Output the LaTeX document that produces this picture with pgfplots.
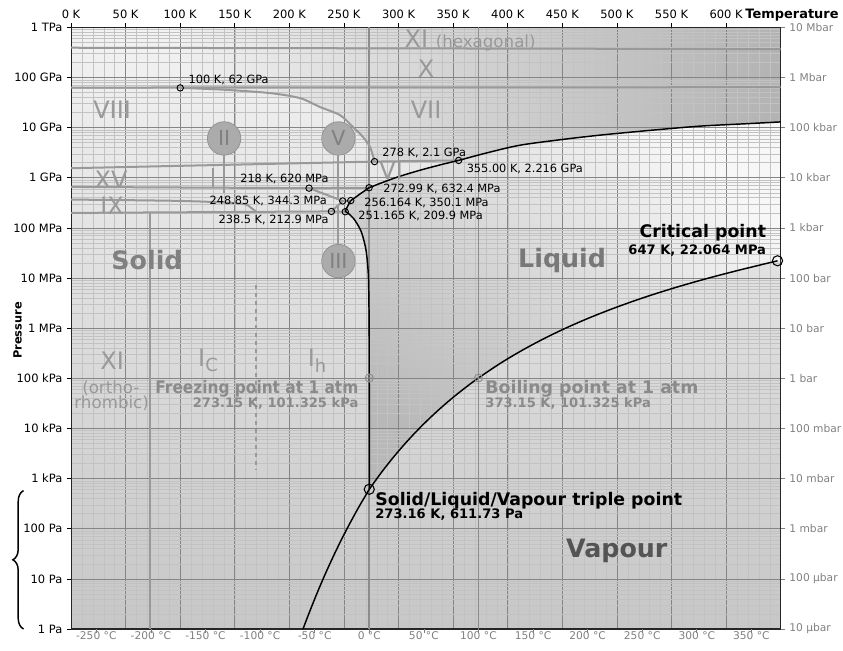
\documentclass[border=0pt]{standalone}
\usepackage{pgfplots}
\pgfplotsset{compat=1.18}
\usepackage{fontspec}
\setmainfont{DejaVu Sans}
\usetikzlibrary{decorations.pathreplacing}
\tikzset{
  lbl/.style={font=\fontsize{8.5}{9}\selectfont, inner sep=1pt, text=black},
  rom/.style={font=\fontsize{18}{18}\selectfont, text=black!40, inner sep=0pt},
  big/.style={font=\bfseries\fontsize{19}{19}\selectfont, inner sep=0pt},
  phase/.style={black!40, line width=1.5pt},
  melt/.style={black, line width=1.1pt},
  circ/.style={circle, fill=black!33, draw=black!42, line width=0.6pt, minimum size=25pt, inner sep=0pt, text=black!50, font=\fontsize{15.5}{15.5}\selectfont},
  ttl/.style={inner sep=0pt, font=\bfseries\fontsize{13}{14}\selectfont},
  sub/.style={inner sep=0pt, font=\bfseries\fontsize{9.8}{11}\selectfont},
}
\begin{document}
\begin{tikzpicture}
\begin{axis}[
  set layers, clip=false,
  scale only axis, width=532pt, height=451pt,
  xmin=0, xmax=650, ymode=log, ymin=1, ymax=1e12,
  xtick={0,50,100,150,200,250,300,350,400,450,500,550,600},
  xticklabels={0 K,50 K,100 K,150 K,200 K,250 K,300 K,350 K,400 K,450 K,500 K,550 K,600 K},
  xtick pos=right, xticklabel pos=right, ytick pos=left,
  ytick={1,10,100,1e3,1e4,1e5,1e6,1e7,1e8,1e9,1e10,1e11,1e12},
  yticklabels={1 Pa,10 Pa,100 Pa,1 kPa,10 kPa,100 kPa,1 MPa,10 MPa,100 MPa,1 GPa,10 GPa,100 GPa,1 TPa},
  minor xtick={10,20,...,650},
  minor ytick={2e0,3e0,4e0,5e0,6e0,7e0,8e0,9e0,2e1,3e1,4e1,5e1,6e1,7e1,8e1,9e1,2e2,3e2,4e2,5e2,6e2,7e2,8e2,9e2,2e3,3e3,4e3,5e3,6e3,7e3,8e3,9e3,2e4,3e4,4e4,5e4,6e4,7e4,8e4,9e4,2e5,3e5,4e5,5e5,6e5,7e5,8e5,9e5,2e6,3e6,4e6,5e6,6e6,7e6,8e6,9e6,2e7,3e7,4e7,5e7,6e7,7e7,8e7,9e7,2e8,3e8,4e8,5e8,6e8,7e8,8e8,9e8,2e9,3e9,4e9,5e9,6e9,7e9,8e9,9e9,2e10,3e10,4e10,5e10,6e10,7e10,8e10,9e10,2e11,3e11,4e11,5e11,6e11,7e11,8e11,9e11},
  grid=both,
  major grid style={black!48, line width=0.5pt},
  minor grid style={black!24, line width=0.35pt},
  minor tick length=0pt, major tick length=3pt, tick align=outside,
  tick style={black, line width=0.5pt},
  axis line style={black!85, line width=0.8pt},
  ticklabel style={font=\fontsize{8.6}{9}\selectfont},
]
\coordinate (ll) at (rel axis cs:0,0);
\coordinate (ur) at (rel axis cs:1,1);
% backgrounds
\addplot[on layer=axis background, draw=none, top color=black!5, bottom color=black!22]
  coordinates {(0,1)(650,1)(650,1e12)(0,1e12)};
\addplot[on layer=axis background, draw=none, left color=black!6, right color=black!30]
  coordinates {(278,2.1e9)(355,2.216e9)(380,3.1e9)(411,4.45e9)(450,5.8e9)(485,7.1e9)(530,8.8e9)(576,10.7e9)(620,12e9)(650,13e9)(650,1e12)(100,1e12)(100,6.2e10)(140,5.7e10)(182.3,4.88e10)(209.8,3.87e10)(228.1,2.57e10)(246.4,1.77e10)(258.4,1.02e10)(267.5,6.46e9)(273.9,4.07e9)};
\addplot[on layer=axis background, draw=none, top color=black!3, bottom color=black!28, shading angle=-40]
  coordinates {(273.16,611.73)(273.15,1e5)(273.08,1e6)(272.42,1e7)(270.7,3e7)(268.8,5e7)(266.6,7.5e7)(264.2,1e8)(259.2,1.5e8)(253.3,2e8)(251.165,2.099e8)(252.5,2.5e8)(254.5,3e8)(256.164,3.501e8)(260,4e8)(265,4.8e8)(270,5.7e8)(272.99,6.324e8)(285,8e8)(300,1.05e9)(320,1.42e9)(340,1.85e9)(355,2.216e9)(380,3.1e9)(411,4.45e9)(450,5.8e9)(485,7.1e9)(530,8.8e9)(576,10.7e9)(620,12e9)(650,13e9)(650,2.2064e7)(647.096,2.2064e7)(633.15,1.865e7)(613.15,1.459e7)(593.15,1.1284e7)(573.15,8.588e6)(553.15,6.417e6)(533.15,4.694e6)(513.15,3.347e6)(493.15,2.318e6)(473.15,1.555e6)(453.15,1.0028e6)(433.15,6.182e5)(413.15,3.615e5)(393.15,1.987e5)(373.15,101325)(363.15,70182)(353.15,47414)(343.15,31201)(333.15,19946)(323.15,12352)(313.15,7385)(303.15,4247)(293.15,2339)(283.15,1228)};
% extra grid lines at 0 C and 100 C
\addplot[black!45, line width=1.5pt] coordinates {(273.15,1)(273.15,1e12)};
\addplot[black!45, line width=0.6pt] coordinates {(373.15,1)(373.15,1e12)};
% grey phase boundaries
\addplot[phase] coordinates {(0,3.92e11)(650,3.68e11)};
\addplot[phase] coordinates {(0,6.3e10)(650,6.4e10)};
\addplot[phase, smooth] coordinates {(100,6.2e10)(140,5.7e10)(182.3,4.88e10)(209.8,3.87e10)(228.1,2.57e10)(246.4,1.77e10)(258.4,1.02e10)(267.5,6.46e9)(273.9,4.07e9)(278,2.1e9)};
\addplot[phase] coordinates {(0,1.55e9)(278,2.1e9)(355,2.216e9)};
\addplot[phase] coordinates {(0,6.56e8)(218,6.2e8)(272.99,6.324e8)};
\addplot[phase] coordinates {(218,6.2e8)(248.85,3.443e8)(256.164,3.501e8)};
\addplot[phase] coordinates {(238.5,2.129e8)(248.85,3.443e8)};
\addplot[phase] coordinates {(0,1.99e8)(238.5,2.129e8)(251.165,2.099e8)};
\addplot[phase, smooth] coordinates {(0,3.67e8)(100,3.45e8)(154.8,3.06e8)(165,2.5e8)(170,2.05e8)};
\addplot[phase] coordinates {(130,1.55e9)(130,6.56e8)};
\addplot[phase] coordinates {(72.4,1.99e8)(72.4,1)};
\addplot[phase, dashed, line width=1.2pt] coordinates {(169.5,7.2e6)(169.5,1455)};
\addplot[phase] coordinates {(140.2,2.8e9)(140.2,5.0e8)};
\addplot[phase] coordinates {(244.9,2.8e9)(244.9,4.0e8)};
\addplot[phase] coordinates {(244.9,4.65e7)(244.9,2.7e8)};
% black lines
\addplot[melt, smooth] coordinates {(212.5,1.0)(215,1.40)(220,2.67)(225,4.97)(230,9.0)(235,15.9)(240,27.4)(245,46.2)(250,76.3)(255,123.3)(260,196)(265,306)(273.16,611.73)};
\addplot[melt, smooth] coordinates {(273.16,611.73)(283.15,1228)(293.15,2339)(303.15,4247)(313.15,7385)(323.15,12352)(333.15,19946)(343.15,31201)(353.15,47414)(363.15,70182)(373.15,101325)(393.15,1.987e5)(413.15,3.615e5)(433.15,6.182e5)(453.15,1.0028e6)(473.15,1.555e6)(493.15,2.318e6)(513.15,3.347e6)(533.15,4.694e6)(553.15,6.417e6)(573.15,8.588e6)(593.15,1.1284e7)(613.15,1.459e7)(633.15,1.865e7)(647.096,2.2064e7)};
\addplot[melt, smooth] coordinates {(273.16,611.73)(273.15,1e5)(273.08,1e6)(272.42,1e7)(270.7,3e7)(268.8,5e7)(266.6,7.5e7)(264.2,1e8)(259.2,1.5e8)(253.3,2e8)(251.165,2.099e8)};
\addplot[melt, smooth] coordinates {(251.165,2.099e8)(252.5,2.5e8)(254.5,3e8)(256.164,3.501e8)};
\addplot[melt, smooth] coordinates {(256.164,3.501e8)(260,4e8)(265,4.8e8)(270,5.7e8)(272.99,6.324e8)};
\addplot[melt, smooth] coordinates {(272.99,6.324e8)(285,8e8)(300,1.05e9)(320,1.42e9)(340,1.85e9)(355,2.216e9)};
\addplot[melt, smooth] coordinates {(355,2.216e9)(380,3.1e9)(411,4.45e9)(450,5.8e9)(485,7.1e9)(530,8.8e9)(576,10.7e9)(620,12e9)(650,13e9)};
% markers
\addplot[only marks, mark=o, mark size=2.4pt, mark options={black, line width=0.7pt}] coordinates {(100,6.2e10)(278,2.1e9)(355,2.216e9)(218,6.2e8)(272.99,6.324e8)(248.85,3.443e8)(256.164,3.501e8)(238.5,2.129e8)(251.165,2.099e8)};
\addplot[only marks, mark=o, mark size=3.8pt, mark options={black, line width=0.8pt}] coordinates {(273.16,611.73)(647.096,2.2064e7)};
\addplot[only marks, mark=oplus, mark size=3pt, mark options={black!45, line width=0.7pt}] coordinates {(273.15,101325)(373.15,101325)};
% point labels
\node[lbl, anchor=west] at (axis cs:106.3,8.87e10) {100 K, 62 GPa};
\node[lbl, anchor=west] at (axis cs:283.7,3.19e9) {278 K, 2.1 GPa};
\node[lbl, anchor=west] at (axis cs:361,1.53e9) {355.00 K, 2.216 GPa};
\node[lbl, anchor=east] at (axis cs:237.3,9.66e8) {218 K, 620 MPa};
\node[lbl, anchor=west] at (axis cs:284.7,5.9e8) {272.99 K, 632.4 MPa};
\node[lbl, anchor=east] at (axis cs:235.7,3.44e8) {248.85 K, 344.3 MPa};
\node[lbl, anchor=west] at (axis cs:267.2,3.15e8) {256.164 K, 350.1 MPa};
\node[lbl, anchor=east] at (axis cs:237.3,1.47e8) {238.5 K, 212.9 MPa};
\node[lbl, anchor=west] at (axis cs:261.8,1.71e8) {251.165 K, 209.9 MPa};
\node[ttl, anchor=east] at (axis cs:636.8,8.17e7) {Critical point};
\node[sub, anchor=east] at (axis cs:636.8,3.57e7) {647 K, 22.064 MPa};
\node[ttl, anchor=west] at (axis cs:278.5,364) {Solid/Liquid/Vapour triple point};
\node[sub, anchor=west] at (axis cs:278.5,189) {273.16 K, 611.73 Pa};
\node[ttl, anchor=east, text=black!46] at (axis cs:263.4,6.19e4) {\scalebox{0.887}[1]{Freezing point at 1 atm}};
\node[sub, anchor=east, text=black!46] at (axis cs:263.4,3.1e4) {273.15 K, 101.325 kPa};
\node[ttl, anchor=west, text=black!46] at (axis cs:379.3,6.19e4) {Boiling point at 1 atm};
\node[sub, anchor=west, text=black!46] at (axis cs:379.3,3.1e4) {373.15 K, 101.325 kPa};
% region labels
\node[big, text=black!50] at (axis cs:69.6,2.26e7) {Solid};
\node[big, text=black!53] at (axis cs:449.8,2.26e7) {Liquid};
\node[big, text=black!67] at (axis cs:499.8,36.6) {Vapour};
\node[rom] at (axis cs:365.5,5.57e11) {XI {\fontsize{12.5}{12.5}\selectfont (hexagonal)}};
\node[rom] at (axis cs:325.2,1.47e11) {X};
\node[rom] at (axis cs:37.6,2.23e10) {VIII};
\node[rom] at (axis cs:325.2,2.23e10) {VII};
\node[rom] at (axis cs:36.6,9.2e8) {XV};
\node[rom] at (axis cs:37.6,2.74e8) {IX};
\node[rom] at (axis cs:293.2,1.41e9) {VI};
\node[rom] at (axis cs:37.6,2.2e5) {XI};
\node[rom, font=\fontsize{12.5}{12.5}\selectfont] at (axis cs:36.5,6.4e4) {(ortho-};
\node[rom, font=\fontsize{12.5}{12.5}\selectfont] at (axis cs:37.2,3.19e4) {rhombic)};
\node[rom] at (axis cs:125.5,2.25e5) {I\raisebox{-4pt}{\fontsize{13.5}{13.5}\selectfont C}};
\node[rom] at (axis cs:225.4,2.25e5) {I\raisebox{-4pt}{\fontsize{13.5}{13.5}\selectfont h}};
\node[circ] at (axis cs:140.2,6.08e9) {II};
\node[circ] at (axis cs:244.9,6.08e9) {V};
\node[circ] at (axis cs:244.9,2.18e7) {III};
% axis titles and brace
\node[anchor=west, inner sep=0pt, font=\bfseries\fontsize{9.7}{10}\selectfont, yshift=9.2pt] at (axis cs:617.5,1e12) {Temperature};
\node[rotate=90, inner sep=0pt, font=\bfseries\fontsize{8.5}{9}\selectfont] at ([xshift=-40pt]axis cs:0,9e5) {Pressure};
\draw[decorate, decoration={brace, amplitude=8pt}, line width=1.1pt] ([xshift=-35.6pt]axis cs:0,1) -- ([xshift=-35.6pt]axis cs:0,575);
\end{axis}
\begin{axis}[
  scale only axis, width=532pt, height=451pt,
  xmin=-273.15, xmax=376.85, ymode=log, ymin=1, ymax=1e12,
  xtick={-250,-200,-150,-100,-50,0,50,100,150,200,250,300,350},
  xticklabels={-250 °C,-200 °C,-150 °C,-100 °C,-50 °C,0 °C,50 °C,100 °C,150 °C,200 °C,250 °C,300 °C,350 °C},
  xtick pos=left, xticklabel pos=left,
  ytick pos=right, yticklabel pos=right,
  ytick={1,10,100,1e3,1e4,1e5,1e6,1e7,1e8,1e9,1e10,1e11,1e12},
  yticklabels={10 µbar,100 µbar,1 mbar,10 mbar,100 mbar,1 bar,10 bar,100 bar,1 kbar,10 kbar,100 kbar,1 Mbar,10 Mbar},
  minor tick length=0pt, major tick length=3pt, tick align=outside,
  tick style={black!50, line width=0.5pt},
  ticklabel style={font=\fontsize{8}{9}\selectfont, text=black!50},
  xticklabel style={anchor=north, inner sep=0pt, yshift=1.4pt},
  axis line style={draw=none},
]
\end{axis}
\pgfresetboundingbox
\path[use as bounding box] ([xshift=-53.25pt,yshift=-16.3pt]ll) rectangle ([xshift=46.7pt,yshift=20.5pt]ur);
\end{tikzpicture}
\end{document}
